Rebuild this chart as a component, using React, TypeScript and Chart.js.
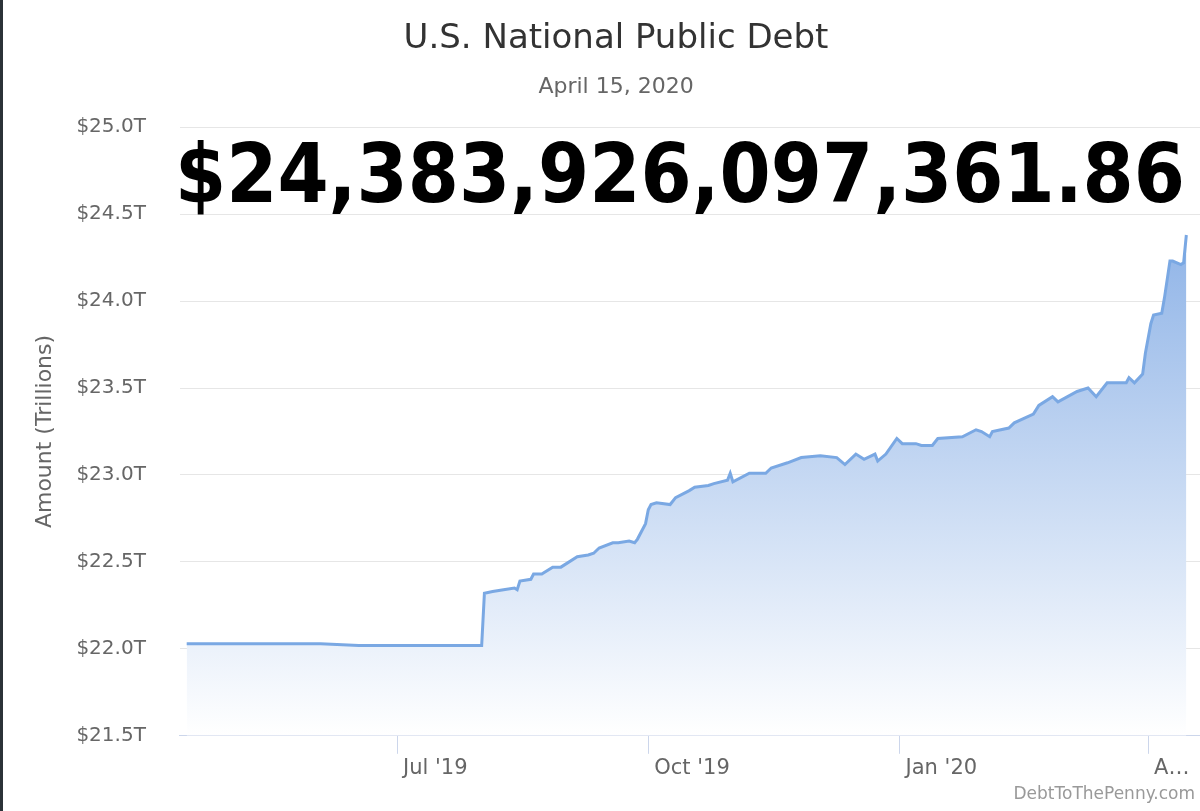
import React, { useEffect, useRef } from "react";
import { Chart, registerables } from "chart.js";

Chart.register(...registerables);

const TITLE = "U.S. National Public Debt";
const SUBTITLE = "April 15, 2020";
const HEADLINE = "$24,383,926,097,361.86";
const CREDIT = "DebtToThePenny.com";
const Y_TITLE = "Amount (Trillions)";

// Dates of the daily debt readings
const dates = [
  "2019-04-15", "2019-04-22", "2019-05-01", "2019-05-15", "2019-06-03", "2019-06-17",
  "2019-07-01", "2019-07-15", "2019-08-01", "2019-08-02", "2019-08-05", "2019-08-09",
  "2019-08-13", "2019-08-14", "2019-08-15", "2019-08-19", "2019-08-20", "2019-08-23",
  "2019-08-27", "2019-08-30", "2019-09-05", "2019-09-09", "2019-09-11", "2019-09-13",
  "2019-09-18", "2019-09-20", "2019-09-24", "2019-09-26", "2019-09-27", "2019-09-30",
  "2019-10-01", "2019-10-02", "2019-10-04", "2019-10-09", "2019-10-11", "2019-10-16",
  "2019-10-18", "2019-10-23", "2019-10-25", "2019-10-30", "2019-10-31", "2019-11-01",
  "2019-11-07", "2019-11-13", "2019-11-15", "2019-11-21", "2019-11-26", "2019-12-03",
  "2019-12-09", "2019-12-12", "2019-12-16", "2019-12-19", "2019-12-23", "2019-12-24",
  "2019-12-27", "2019-12-31", "2020-01-02", "2020-01-07", "2020-01-09", "2020-01-13",
  "2020-01-15", "2020-01-24", "2020-01-29", "2020-01-31", "2020-02-03", "2020-02-04",
  "2020-02-10", "2020-02-12", "2020-02-19", "2020-02-21", "2020-02-26", "2020-02-28",
  "2020-03-06", "2020-03-10", "2020-03-13", "2020-03-17", "2020-03-24", "2020-03-25",
  "2020-03-27", "2020-03-30", "2020-03-31", "2020-04-02", "2020-04-03", "2020-04-06",
  "2020-04-07", "2020-04-09", "2020-04-10", "2020-04-13", "2020-04-14", "2020-04-15",
];

// Total public debt outstanding, trillions of dollars
const debt = [
  22.03, 22.03, 22.03, 22.03, 22.03, 22.02,
  22.02, 22.02, 22.02, 22.32, 22.33, 22.34,
  22.35, 22.34, 22.39, 22.40, 22.43, 22.43,
  22.47, 22.47, 22.53, 22.54, 22.55, 22.58,
  22.61, 22.61, 22.62, 22.61, 22.63, 22.72,
  22.80, 22.83, 22.84, 22.83, 22.87, 22.91,
  22.93, 22.94, 22.95, 22.97, 23.01, 22.96,
  23.01, 23.01, 23.04, 23.07, 23.10, 23.11,
  23.10, 23.06, 23.12, 23.09, 23.12, 23.08,
  23.12, 23.21, 23.18, 23.18, 23.17, 23.17,
  23.21, 23.22, 23.26, 23.25, 23.22, 23.25,
  23.27, 23.30, 23.35, 23.40, 23.45, 23.42,
  23.48, 23.50, 23.45, 23.53, 23.53, 23.56,
  23.53, 23.58, 23.70, 23.87, 23.92, 23.93,
  24.02, 24.23, 24.23, 24.21, 24.22, 24.38,
];

const tickDates = ["2019-07-01", "2019-10-01", "2020-01-01", "2020-04-01"];
const tickLabels = ["Jul '19", "Oct '19", "Jan '20", "A\u2026"];

const X_START = "2019-04-12T12:00:00Z";
const X_END = "2020-04-20T00:00:00Z";
const Y_MIN = 21.5;
const Y_MAX = 25.0;
const Y_STEP = 0.5;

const FONT = '"DejaVu Sans", sans-serif';

const toDay = (d: string) => Date.parse(d.length === 10 ? d + "T00:00:00Z" : d) / 864e5;

const overlayPlugin = {
  id: "overlay",
  afterDatasetsDraw(chart: any) {
    const { ctx } = chart;
    ctx.save();
    ctx.fillStyle = "#000000";
    ctx.font = `bold 82px ${FONT}`;
    ctx.textAlign = "center";
    ctx.textBaseline = "alphabetic";
    ctx.fillText(HEADLINE, 680, 202, 1010);
    ctx.font = `17px ${FONT}`;
    ctx.fillStyle = "#999999";
    ctx.textAlign = "right";
    ctx.fillText(CREDIT, 1195, 799);
    ctx.restore();
  },
};

export default function App() {
  const ref = useRef<HTMLCanvasElement | null>(null);

  useEffect(() => {
    document.body.style.margin = "0";
    const canvas = ref.current;
    if (!canvas) return;
    const points = dates.map((d, i) => ({ x: toDay(d), y: debt[i] }));
    const chart = new Chart(canvas, {
      type: "line",
      data: {
        datasets: [
          {
            data: points,
            borderColor: "#7aa8e3",
            borderWidth: 3,
            pointRadius: 0,
            tension: 0,
            fill: "start",
            backgroundColor: (c: any) => {
              const area = c.chart.chartArea;
              if (!area) return "rgba(124,170,230,0.5)";
              const g = c.chart.ctx.createLinearGradient(0, area.top, 0, area.bottom);
              g.addColorStop(0, "rgba(120,164,226,1)");
              g.addColorStop(1, "rgba(255,255,255,1)");
              return g;
            },
          },
        ],
      },
      options: {
        responsive: false,
        animation: false,
        layout: { padding: { left: 32, right: 0, top: 0, bottom: 28 } },
        plugins: {
          legend: { display: false },
          tooltip: { enabled: false },
          title: {
            display: true,
            text: TITLE,
            color: "#333333",
            font: { family: FONT, size: 34, weight: "normal" },
            padding: { top: 19, bottom: 0 },
          },
          subtitle: {
            display: true,
            text: SUBTITLE,
            color: "#666666",
            font: { family: FONT, size: 22, weight: "normal" },
            padding: { top: 14, bottom: 27 },
          },
        },
        scales: {
          x: {
            type: "linear",
            min: toDay(X_START),
            max: toDay(X_END),
            afterBuildTicks: (scale: any) => {
              scale.ticks = tickDates.map((d) => ({ value: toDay(d) }));
            },
            grid: {
              display: true,
              drawOnChartArea: false,
              drawTicks: true,
              tickLength: 18,
              tickColor: "#ccd6eb",
              color: "#ccd6eb",
            },
            border: { display: true, color: "#ccd6eb", width: 1 },
            ticks: {
              autoSkip: false,
              maxRotation: 0,
              align: "start",
              labelOffset: 6,
              padding: 2,
              color: "#666666",
              font: { family: FONT, size: 21 },
              callback: (_v: any, i: number) => tickLabels[i],
            },
          },
          y: {
            min: Y_MIN,
            max: Y_MAX,
            grid: {
              color: "#e6e6e6",
              drawTicks: true,
              tickLength: 34,
              tickColor: "rgba(0,0,0,0)",
              lineWidth: 1,
            },
            border: { display: false },
            ticks: {
              stepSize: Y_STEP,
              padding: 0,
              color: "#666666",
              font: { family: FONT, size: 20 },
              callback: (v: any) => "$" + Number(v).toFixed(1) + "T",
            },
            title: {
              display: true,
              text: Y_TITLE,
              color: "#666666",
              font: { family: FONT, size: 22 },
              padding: { top: 0, bottom: 18 },
            },
          },
        },
      },
      plugins: [overlayPlugin],
    });
    return () => chart.destroy();
  }, []);

  return (
    <div style={{ position: "relative", width: 1200, height: 811, background: "#ffffff" }}>
      <canvas ref={ref} width={1200} height={811} style={{ display: "block", width: 1200, height: 811 }} />
      <div style={{ position: "absolute", left: 0, top: 0, width: 3, height: 811, background: "#2b3238" }} />
    </div>
  );
}
